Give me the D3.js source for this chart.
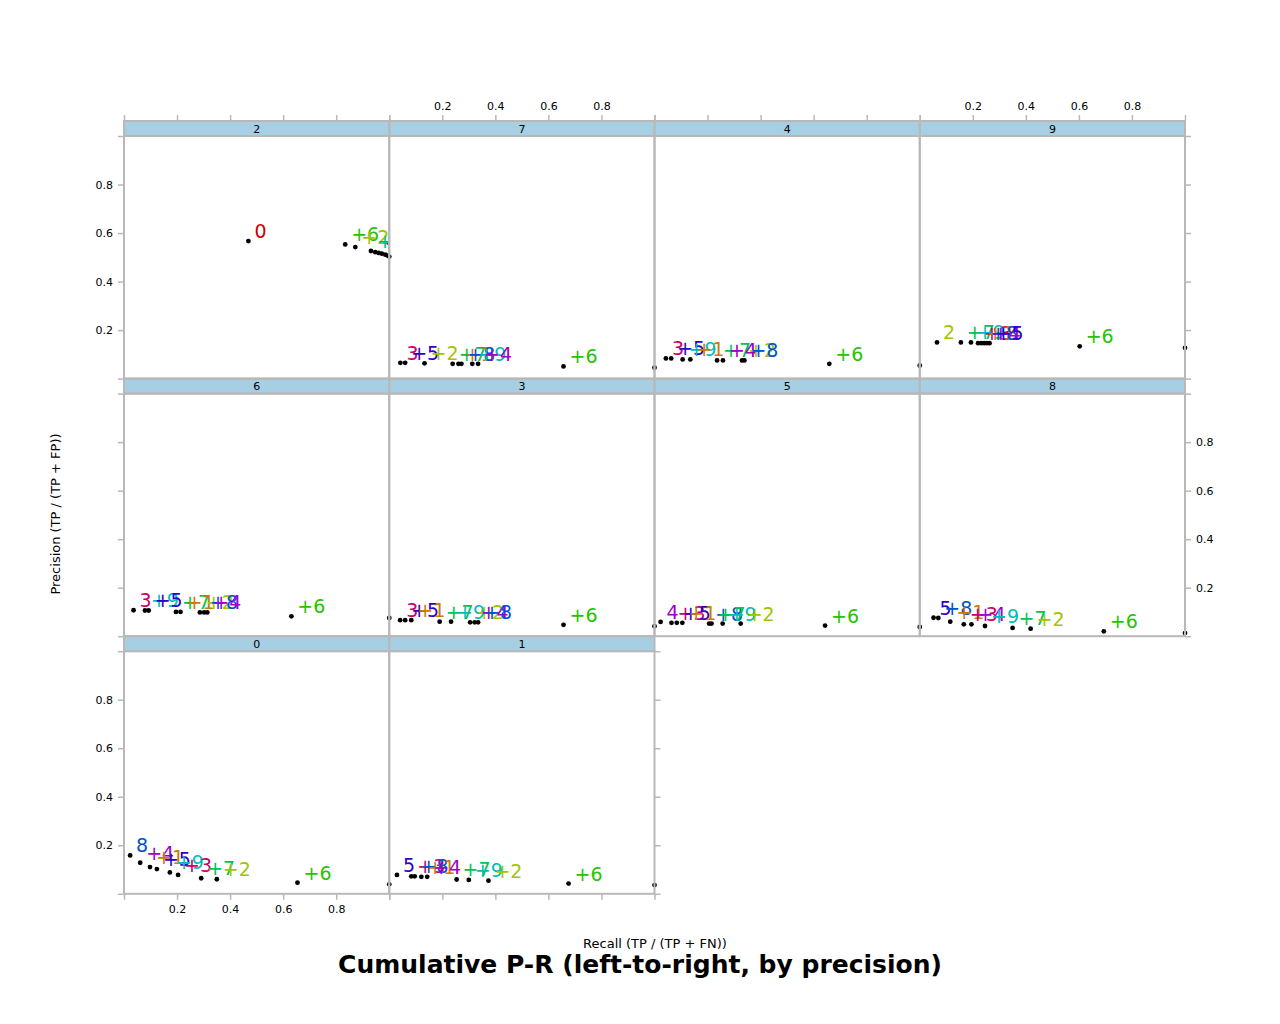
<!DOCTYPE html>
<html><head><meta charset="utf-8">
<script src="https://cdn.jsdelivr.net/npm/d3@7"></script>
<style>
body{margin:0;background:#fff}
svg{display:block;font-family:"DejaVu Sans",sans-serif}
</style>
</head><body>
<svg id="chart" width="1280" height="1024"></svg>
<script>
// ---- data ----
const panelNames = ["2","7","4","9","6","3","5","8","0","1"];

const seq2 = [0,6,2,7,9,4,1,3,5,8];
const rec2 = [0.469,0.834,0.872,0.931,0.947,0.960,0.972,0.985,0.994,1.0];
const pre2 = [0.567,0.553,0.542,0.526,0.521,0.518,0.515,0.511,0.507,0.503];

const seq7 = [3,5,2,7,1,8,9,4,6,0];
const rec7 = [0.042,0.060,0.133,0.239,0.261,0.272,0.313,0.335,0.657,1.0];
const pre7 = [0.065,0.065,0.063,0.061,0.061,0.061,0.061,0.061,0.050,0.045];

const seq4 = [3,5,9,1,7,4,2,8,6,0];
const rec4 = [0.043,0.063,0.106,0.135,0.236,0.258,0.330,0.339,0.659,1.0];
const pre4 = [0.083,0.083,0.079,0.079,0.075,0.075,0.075,0.075,0.061,0.054];

const seq9 = [2,7,9,3,1,8,4,5,6,0];
const rec9 = [0.065,0.155,0.193,0.220,0.232,0.243,0.253,0.263,0.603,1.0];
const pre9 = [0.149,0.149,0.149,0.146,0.146,0.146,0.146,0.146,0.133,0.127];

const seq6 = [3,9,5,7,1,2,8,4,6,0];
const rec6 = [0.036,0.079,0.093,0.196,0.213,0.286,0.302,0.314,0.631,1.0];
const pre6 = [0.107,0.106,0.106,0.100,0.100,0.098,0.098,0.098,0.082,0.075];

const seq3 = [3,5,1,7,9,2,4,8,6,0];
const rec3 = [0.041,0.060,0.083,0.190,0.233,0.305,0.322,0.335,0.657,1.0];
const pre3 = [0.066,0.066,0.066,0.060,0.060,0.057,0.057,0.057,0.047,0.041];

const seq5 = [4,3,5,1,8,7,9,2,6,0];
const rec5 = [0.023,0.064,0.084,0.105,0.206,0.215,0.257,0.325,0.643,1.0];
const pre5 = [0.059,0.055,0.055,0.055,0.052,0.052,0.052,0.052,0.044,0.038];

const seq8 = [5,8,1,3,4,9,7,2,6,0];
const rec8 = [0.052,0.070,0.115,0.166,0.195,0.246,0.350,0.418,0.694,1.0];
const pre8 = [0.076,0.075,0.060,0.049,0.049,0.042,0.034,0.031,0.020,0.013];

const seq0 = [8,4,1,5,9,3,7,2,6,0];
const rec0 = [0.023,0.061,0.098,0.124,0.173,0.204,0.291,0.350,0.654,1.0];
const pre0 = [0.158,0.128,0.110,0.102,0.088,0.078,0.064,0.060,0.046,0.039];

const seq1 = [5,3,8,1,4,7,9,2,6,0];
const rec1 = [0.029,0.083,0.096,0.121,0.143,0.254,0.300,0.374,0.676,1.0];
const pre1 = [0.078,0.072,0.072,0.070,0.070,0.059,0.057,0.054,0.042,0.036];

const tickValues = [0,0.2,0.4,0.6,0.8,1];
const tickLabels = ["","0.2","0.4","0.6","0.8",""];

// colours per digit 0..9
const digitColors = ["#cc0000","#cc7a00","#a3c400","#cc0066","#a000cc","#2e00cc","#26c400","#00c452","#0052cc","#00bcbc"];

const panelSeqs = {"2":seq2,"7":seq7,"4":seq4,"9":seq9,"6":seq6,"3":seq3,"5":seq5,"8":seq8,"0":seq0,"1":seq1};
const panelRecs = {"2":rec2,"7":rec7,"4":rec4,"9":rec9,"6":rec6,"3":rec3,"5":rec5,"8":rec8,"0":rec0,"1":rec1};
const panelPres = {"2":pre2,"7":pre7,"4":pre4,"9":pre9,"6":pre6,"3":pre3,"5":pre5,"8":pre8,"0":pre0,"1":pre1};

// ---- layout ----
const svg = d3.select("#chart");
const nCols = 4, nRows = 3;
const left0 = 124, W = 265.25, top0 = 121, stripH = 15, H = 242.6;
const borderCol = "#b8b8b8";
const stripFill = "#a7cfe3";

const x = d3.scaleLinear().domain([0,1]).range([0,W]);
const y = d3.scaleLinear().domain([0,1]).range([H,0]);

function pos(i){
  const row = Math.floor(i/nCols), col = i%nCols;
  const px = left0 + col*W;
  const sTop = top0 + row*(stripH+H);
  return {row, col, px, sTop, pTop: sTop+stripH};
}

const defs = svg.append("defs");
const gStrips = svg.append("g");
const gContent = svg.append("g");
const gBorders = svg.append("g");
const gAxes = svg.append("g");

panelNames.forEach((name,i)=>{
  const p = pos(i);
  // strip
  const s = gStrips.append("g").attr("transform",`translate(${p.px},${p.sTop})`);
  s.append("rect").attr("width",W).attr("height",stripH).attr("fill",stripFill);
  s.append("text").attr("x",W/2).attr("y",stripH/2+4).attr("text-anchor","middle")
    .attr("font-size",11).attr("fill","#000").text(name);

  const data = panelSeqs[name].map((d,k)=>({digit:d, r:panelRecs[name][k], p:panelPres[name][k], k}));

  const clipId = "clip"+i;
  defs.append("clipPath").attr("id",clipId).append("rect").attr("width",W).attr("height",H);

  const g = gContent.append("g").attr("transform",`translate(${p.px},${p.pTop})`);
  g.append("g").attr("clip-path",`url(#${clipId})`)
    .selectAll("text").data(data).join("text")
    .attr("x",d=>x(d.r)+6)
    .attr("y",d=>y(d.p)-3)
    .attr("font-size",19)
    .attr("fill",d=>digitColors[d.digit])
    .text(d=>(d.k===0?"":"+")+d.digit);
  g.append("g").selectAll("circle").data(data).join("circle")
    .attr("cx",d=>x(d.r)).attr("cy",d=>y(d.p)).attr("r",2.4).attr("fill","#000");

  // borders
  gBorders.append("rect").attr("x",p.px).attr("y",p.sTop).attr("width",W).attr("height",stripH)
    .attr("fill","none").attr("stroke",borderCol).attr("stroke-width",2);
  gBorders.append("rect").attr("x",p.px).attr("y",p.pTop).attr("width",W).attr("height",H)
    .attr("fill","none").attr("stroke",borderCol).attr("stroke-width",2);
});

// ---- axes ----
function styleAxis(g){
  g.select(".domain").remove();
  g.selectAll(".tick line").attr("stroke",borderCol).attr("stroke-width",1.5);
  g.selectAll(".tick text").attr("fill","#000").attr("font-size",11)
    .attr("font-family","DejaVu Sans, sans-serif");
}
const fmt = (labeled)=> (d)=> labeled ? tickLabels[tickValues.indexOf(d)] : "";

// top axes: row 0, all columns; labels on columns 1 and 3
for(let c=0;c<nCols;c++){
  const p = pos(c);
  const g = gAxes.append("g").attr("transform",`translate(${p.px},${p.sTop})`)
    .call(d3.axisTop(x).tickValues(tickValues).tickSize(6).tickPadding(5).tickFormat(fmt(c%2===1)));
  styleAxis(g);
}
// bottom axes: bottom row panels
panelNames.forEach((n,i)=>{
  const p = pos(i);
  if(p.row===nRows-1){
    const g = gAxes.append("g").attr("transform",`translate(${p.px},${p.pTop+H})`)
      .call(d3.axisBottom(x).tickValues(tickValues).tickSize(6).tickPadding(5).tickFormat(fmt(p.col%2===0)));
    styleAxis(g);
  }
});
// left axes: column 0 panels; labels on rows 0 and 2
panelNames.forEach((n,i)=>{
  const p = pos(i);
  if(p.col===0){
    const g = gAxes.append("g").attr("transform",`translate(${p.px},${p.pTop})`)
      .call(d3.axisLeft(y).tickValues(tickValues).tickSize(6).tickPadding(5).tickFormat(fmt(p.row%2===0)));
    styleAxis(g);
  }
});
// right axes: last panel of each row; labels on row 1
for(let r=0;r<nRows;r++){
  const idx = Math.min((r+1)*nCols, panelNames.length)-1;
  const p = pos(idx);
  const g = gAxes.append("g").attr("transform",`translate(${p.px+W},${p.pTop})`)
    .call(d3.axisRight(y).tickValues(tickValues).tickSize(6).tickPadding(5).tickFormat(fmt(r%2===1)));
  styleAxis(g);
}

// ---- titles ----
svg.append("text").attr("transform","translate(60,514) rotate(-90)")
  .attr("text-anchor","middle").attr("font-size",13).attr("fill","#000")
  .text("Precision (TP / (TP + FP))");
svg.append("text").attr("x",655).attr("y",948).attr("text-anchor","middle")
  .attr("font-size",13).attr("fill","#000").text("Recall (TP / (TP + FN))");
svg.append("text").attr("x",640).attr("y",973).attr("text-anchor","middle")
  .attr("font-size",25).attr("font-weight","bold").attr("fill","#000")
  .text("Cumulative P-R (left-to-right, by precision)");
</script>
</body></html>
